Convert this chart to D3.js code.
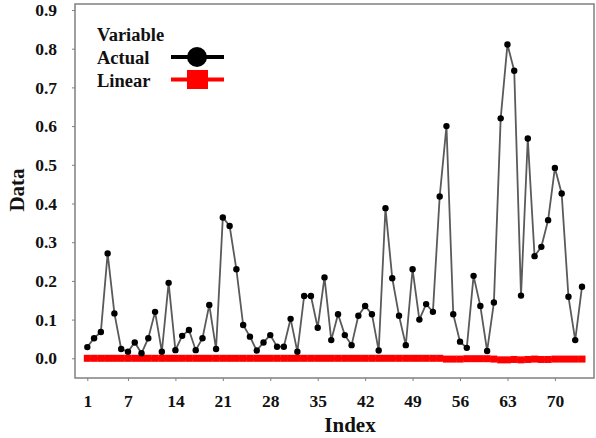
<!DOCTYPE html>
<html>
<head>
<meta charset="utf-8">
<script src="https://cdn.jsdelivr.net/npm/d3@7"></script>
<style>
  body { margin: 0; background: #fff; }
  text { font-family: "Liberation Serif", "Times New Roman", serif; font-weight: bold; fill: #111; }
</style>
</head>
<body>
<svg width="596" height="438"></svg>
<script>
// values
const actual = [
  0.029, 0.052, 0.068, 0.271, 0.116, 0.024, 0.017, 0.041, 0.013, 0.052,
  0.120, 0.017, 0.195, 0.021, 0.058, 0.073, 0.021, 0.052, 0.138, 0.024,
  0.364, 0.342, 0.230, 0.086, 0.056, 0.020, 0.041, 0.060, 0.030, 0.030,
  0.102, 0.017, 0.161, 0.161, 0.079, 0.209, 0.047, 0.114, 0.060, 0.034,
  0.110, 0.135, 0.114, 0.020, 0.388, 0.207, 0.110, 0.034, 0.230, 0.100,
  0.140, 0.120, 0.418, 0.600, 0.114, 0.043, 0.027, 0.213, 0.135, 0.019,
  0.144, 0.620, 0.811, 0.743, 0.162, 0.568, 0.264, 0.288, 0.357, 0.492,
  0.426, 0.159, 0.047, 0.185
];
const linear = [
  0.000, 0.000, 0.000, 0.000, 0.000, 0.000, 0.000, 0.000, 0.000, 0.000,
  0.000, 0.000, 0.000, 0.000, 0.000, 0.000, 0.000, 0.000, 0.000, 0.000,
  0.000, 0.000, 0.000, 0.000, 0.000, 0.000, 0.000, 0.000, 0.000, 0.000,
  0.000, 0.000, 0.000, 0.000, 0.000, 0.000, 0.000, 0.000, 0.000, 0.000,
  0.000, 0.000, 0.000, 0.000, 0.000, 0.000, 0.000, 0.000, 0.000, 0.000,
  0.000, 0.000, 0.000, -0.002, -0.002, -0.002, -0.001, -0.001, -0.001, -0.001,
  -0.002, -0.004, -0.004, -0.003, -0.004, -0.003, -0.002, -0.003, -0.003, -0.002,
  -0.002, -0.002, -0.002, -0.002
];
const xTicks = [1, 7, 14, 21, 28, 35, 42, 49, 56, 63, 70];
const yTicks = [0.0, 0.1, 0.2, 0.3, 0.4, 0.5, 0.6, 0.7, 0.8, 0.9];

const svg = d3.select("svg");

const x = d3.scaleLinear().domain([1, actual.length]).range([87.3, 582]);
const y = d3.scaleLinear().domain([0, 0.9]).range([358.3, 10]);

// frame
svg.append("rect")
  .attr("x", 75).attr("y", 4)
  .attr("width", 519).attr("height", 374)
  .attr("fill", "none").attr("stroke", "#808080").attr("stroke-width", 1.5);

// axes
const xAxis = svg.append("g")
  .attr("transform", "translate(0,378)")
  .call(d3.axisBottom(x).tickValues(xTicks).tickSize(3).tickPadding(14));
const yAxis = svg.append("g")
  .attr("transform", "translate(75,0)")
  .call(d3.axisLeft(y).tickValues(yTicks).tickSize(3).tickPadding(15).tickFormat(d3.format(".1f")));
[xAxis, yAxis].forEach(g => {
  g.select(".domain").remove();
  g.selectAll(".tick line").attr("stroke", "#808080");
  g.selectAll(".tick text").attr("font-size", 17.5).attr("fill", "#111");
});

// Linear series
const linePath = d3.line().x((d, i) => x(i + 1)).y(d => y(d));
svg.append("path")
  .datum(linear)
  .attr("d", linePath)
  .attr("fill", "none").attr("stroke", "#f00").attr("stroke-width", 3);
svg.append("g").selectAll("rect")
  .data(linear)
  .join("rect")
  .attr("x", (d, i) => x(i + 1) - 3.5)
  .attr("y", d => y(d) - 3.5)
  .attr("width", 7).attr("height", 7)
  .attr("fill", "#f00");

// Actual series
svg.append("path")
  .datum(actual)
  .attr("d", linePath)
  .attr("fill", "none").attr("stroke", "#5a5a5a").attr("stroke-width", 1.8);
svg.append("g").selectAll("circle")
  .data(actual)
  .join("circle")
  .attr("cx", (d, i) => x(i + 1))
  .attr("cy", d => y(d))
  .attr("r", 3.2)
  .attr("fill", "#000");

// legend
const leg = svg.append("g");
leg.append("text").attr("x", 97).attr("y", 41).attr("font-size", 18.5).text("Variable");
leg.append("text").attr("x", 97).attr("y", 64).attr("font-size", 18.5).text("Actual");
leg.append("text").attr("x", 97).attr("y", 87).attr("font-size", 18.5).text("Linear");
leg.append("line").attr("x1", 171).attr("x2", 224).attr("y1", 57).attr("y2", 57)
  .attr("stroke", "#000").attr("stroke-width", 4);
leg.append("circle").attr("cx", 197).attr("cy", 57).attr("r", 10).attr("fill", "#000");
leg.append("line").attr("x1", 171).attr("x2", 224).attr("y1", 79.5).attr("y2", 79.5)
  .attr("stroke", "#f00").attr("stroke-width", 4);
leg.append("rect").attr("x", 187).attr("y", 70).attr("width", 21).attr("height", 19).attr("fill", "#f00");

// axis titles
svg.append("text")
  .attr("x", 350).attr("y", 432)
  .attr("text-anchor", "middle").attr("font-size", 21)
  .text("Index");
svg.append("text")
  .attr("transform", "translate(24,190) rotate(-90)")
  .attr("text-anchor", "middle").attr("font-size", 21)
  .text("Data");
</script>
</body>
</html>
